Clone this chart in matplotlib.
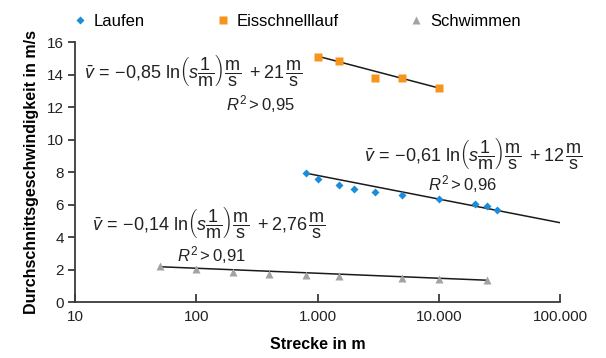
import matplotlib
matplotlib.use("Agg")
import matplotlib.pyplot as plt
from matplotlib import font_manager

# --- data ---
lauf_s = [800, 1000, 1500, 2000, 3000, 5000, 10000, 20000, 25000, 30000]
lauf_v = [7.92, 7.57, 7.22, 6.97, 6.75, 6.58, 6.34, 6.05, 5.89, 5.66]
eis_s = [1000, 1500, 3000, 5000, 10000]
eis_v = [15.08, 14.85, 13.80, 13.78, 13.15]
schw_s = [50, 100, 200, 400, 800, 1500, 5000, 10000, 25000]
schw_v = [2.22, 2.03, 1.83, 1.71, 1.66, 1.57, 1.46, 1.42, 1.35]

# trend lines: endpoints (s) and end values (v) as drawn
lauf_fit_s = [800, 105000]
lauf_fit_v = [7.93, 4.85]
eis_fit_s = [1000, 10000]
eis_fit_v = [15.13, 13.17]
schw_fit_s = [50, 25000]
schw_fit_v = [2.17, 1.34]

xticks = [10, 100, 1000, 10000, 100000]
xtick_labels = ["10", "100", "1.000", "10.000", "100.000"]
yticks = [0, 2, 4, 6, 8, 10, 12, 14, 16]

BLUE = "#1a8cd8"
ORANGE = "#f7941d"
GRAY = "#a3a3a3"
AXC = "#3a3a3a"

names = {f.name for f in font_manager.fontManager.ttflist}
base = "Liberation Sans"
narrow = "Liberation Sans Narrow" if "Liberation Sans Narrow" in names else base
plt.rcParams["font.family"] = [base, "DejaVu Sans"]
plt.rcParams["mathtext.fontset"] = "custom"
plt.rcParams["mathtext.rm"] = base
plt.rcParams["mathtext.it"] = base + ":italic"
plt.rcParams["mathtext.bf"] = base + ":bold"

W, H = 606, 358
fig = plt.figure(figsize=(W / 100, H / 100), dpi=100)
ax = fig.add_axes([75 / W, 1 - 302 / H, (560 - 75) / W, (302 - 42) / H])

ax.plot(lauf_fit_s, lauf_fit_v, color="#1a1a1a", lw=1.1, zorder=2)
ax.plot(eis_fit_s, eis_fit_v, color="#1a1a1a", lw=1.1, zorder=2)
ax.plot(schw_fit_s, schw_fit_v, color="#1a1a1a", lw=1.1, zorder=2)

h1, = ax.plot(lauf_s, lauf_v, "D", color=BLUE, ms=4.3, mec="none", zorder=3, label="Laufen")
h2, = ax.plot(eis_s, eis_v, "s", color=ORANGE, ms=5.3, mec="none", zorder=3, label="Eisschnelllauf")
h3, = ax.plot(schw_s, schw_v, "^", color=GRAY, ms=6.3, mec="none", zorder=3, label="Schwimmen")

ax.set_xscale("log")
ax.set_xlim(10, 100000)
ax.set_ylim(0, 16)
ax.set_xticks(xticks)
ax.set_xticklabels(xtick_labels)
ax.minorticks_off()
ax.set_yticks(yticks)
for s in ("top", "right"):
    ax.spines[s].set_visible(False)
for s in ("left", "bottom"):
    ax.spines[s].set_color(AXC)
    ax.spines[s].set_linewidth(1.3)
ax.tick_params(axis="x", direction="in", length=6, width=1.3, color=AXC,
               labelsize=11, pad=6, labelcolor="#222222")
ax.tick_params(axis="y", direction="out", length=5, width=1.3, color=AXC,
               labelsize=11, pad=3, labelcolor="#222222")

ax.set_xlabel("Strecke in m", fontsize=11.5, fontweight="bold",
              family=[narrow, "DejaVu Sans"], labelpad=9)
ax.set_ylabel("Durchschnittsgeschwindigkeit in m/s", fontsize=11.5, fontweight="bold",
              family=[narrow, "DejaVu Sans"], labelpad=6)

fig.legend(handles=[h1, h2, h3], loc="center left", bbox_to_anchor=(74 / W, 1 - 21 / H),
           ncol=3, frameon=False, fontsize=12, handlelength=0.7, handletextpad=0.5,
           columnspacing=4.3, borderpad=0, borderaxespad=0)

frac_m_s = r"\dfrac{\mathrm{m}}{\mathrm{s}}"
ln_part = r"\ln\!\left(s\dfrac{1}{\mathrm{m}}\right)" + frac_m_s
eq1 = r"$\bar{v}\,=\,{-}0{,}85\ " + ln_part + r"\ +21\," + frac_m_s + "$"
eq2 = r"$\bar{v}\,=\,{-}0{,}61\ " + ln_part + r"\ +12\," + frac_m_s + "$"
eq3 = r"$\bar{v}\,=\,{-}0{,}14\ " + ln_part + r"\ +2{,}76\," + frac_m_s + "$"

def ftext(x, y, s, size=12):
    fig.text(x / W, 1 - y / H, s, ha="left", va="center", fontsize=size,
             color="#222222")

ftext(84, 70, eq1, 13)
ftext(226, 104, r"$R^2 > 0{,}95$")
ftext(364, 153, eq2, 13)
ftext(428, 184, r"$R^2 > 0{,}96$")
ftext(92, 222, eq3, 13)
ftext(177, 255, r"$R^2 > 0{,}91$")

fig.savefig("out.png", dpi=100)
